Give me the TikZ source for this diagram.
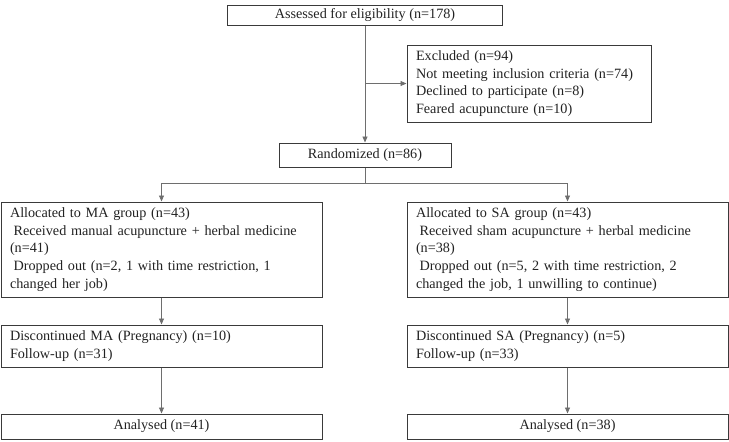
\documentclass[tikz,border=0pt]{standalone}
\usepackage{fontspec}
\setmainfont{Liberation Serif}
\usetikzlibrary{arrows.meta,positioning}
\definecolor{boxc}{HTML}{3A3A3A}
\definecolor{linec}{HTML}{6E6E6E}
\definecolor{txtc}{HTML}{222222}
\begin{document}
\begin{tikzpicture}[x=1pt,y=-1pt,
  box/.style={draw=boxc,line width=1pt,text=txtc,inner xsep=8pt,inner ysep=0pt,
    font=\fontsize{14.2}{17.6}\selectfont},
  lbox/.style={box,align=left},
  cbox/.style={box,align=center},
  arr/.style={draw=linec,line width=0.8pt,-{Triangle[length=6pt,width=5pt]}},
  ln/.style={draw=linec,line width=0.8pt}]
\useasboundingbox (0,0) rectangle (729,442);
\node[cbox,minimum width=275pt,minimum height=20pt] (assess) at (365,15) {Assessed for eligibility (n=178)};
\node[lbox,minimum width=244pt,minimum height=77pt,text width=226pt] (excl) at (529,83.5)
  {Excluded (n=94)\\Not meeting inclusion criteria (n=74)\\Declined to participate (n=8)\\Feared acupuncture (n=10)};
\node[cbox,minimum width=172pt,minimum height=24pt] (rand) at (365,155) {Randomized (n=86)};
\node[lbox,minimum width=321pt,minimum height=95pt,text width=303pt] (ma) at (161.5,249.5)
  {Allocated to MA group (n=43)\\\hspace*{0.25em}Received manual acupuncture + herbal medicine\\(n=41)\\\hspace*{0.25em}Dropped out (n=2, 1 with time restriction, 1\\changed her job)};
\node[lbox,minimum width=321pt,minimum height=95pt,text width=303pt] (sa) at (567.5,249.5)
  {Allocated to SA group (n=43)\\\hspace*{0.25em}Received sham acupuncture + herbal medicine\\(n=38)\\\hspace*{0.25em}Dropped out (n=5, 2 with time restriction, 2\\changed the job, 1 unwilling to continue)};
\node[lbox,minimum width=321pt,minimum height=42pt,text width=303pt] (dma) at (161.5,346)
  {Discontinued MA (Pregnancy) (n=10)\\Follow-up (n=31)};
\node[lbox,minimum width=321pt,minimum height=42pt,text width=303pt] (dsa) at (567.5,346)
  {Discontinued SA (Pregnancy) (n=5)\\Follow-up (n=33)};
\node[cbox,minimum width=321pt,minimum height=25pt] (ama) at (161.5,426.5) {Analysed (n=41)};
\node[cbox,minimum width=321pt,minimum height=25pt] (asa) at (567.5,426.5) {Analysed (n=38)};
\draw[arr] (assess.south) -- (rand.north);
\draw[arr] (assess.south |- excl.west) -- (excl.west);
\coordinate (sp) at (365,183);
\draw[ln] (rand.south) -- (sp);
\draw[arr] (sp) -| (ma.north);
\draw[arr] (sp) -| (sa.north);
\draw[arr] (ma.south) -- (dma.north);
\draw[arr] (sa.south) -- (dsa.north);
\draw[arr] (dma.south) -- (ama.north);
\draw[arr] (dsa.south) -- (asa.north);
\end{tikzpicture}
\end{document}
